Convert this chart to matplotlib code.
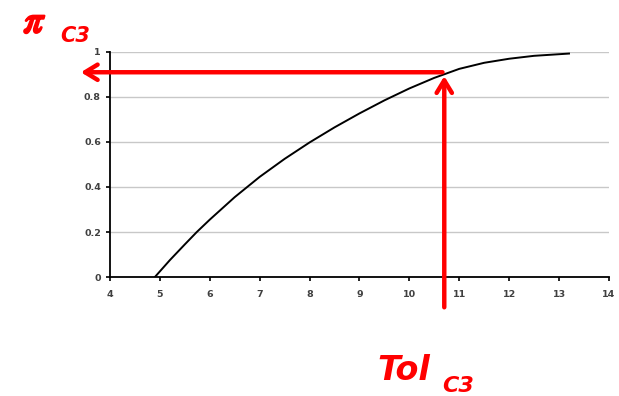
import matplotlib.pyplot as plt
import matplotlib.patheffects as pe

# curve
tol = [4.9, 5.2, 5.5, 5.74, 6.0, 6.5, 7.0, 7.5, 8.0, 8.5, 9.0, 9.5,
       10.0, 10.5, 11.0, 11.5, 12.0, 12.5, 13.2]
pi_c3 = [0.0, 0.075, 0.145, 0.2, 0.255, 0.355, 0.445, 0.525, 0.598, 0.665, 0.727, 0.785,
         0.838, 0.885, 0.925, 0.952, 0.970, 0.983, 0.993]

tol_pick = 10.7
pi_pick = 0.91

fig = plt.figure(figsize=(6.19, 3.96), dpi=100)
ax = fig.add_axes([0.1777, 0.3005, 0.806, 0.5682])

ax.plot(tol, pi_c3, color='black', lw=1.4, solid_joinstyle='round')

ax.set_xlim(4, 14)
ax.set_ylim(0, 1)
ax.set_xticks(range(4, 15))
ax.set_yticks([0, 0.2, 0.4, 0.6, 0.8, 1])
ax.set_yticklabels(['0', '0.2', '0.4', '0.6', '0.8', '1'])
ax.grid(axis='y', color='#c8c8c8', lw=1)
ax.set_axisbelow(True)
for s in ['top', 'right']:
    ax.spines[s].set_visible(False)
ax.spines['left'].set_linewidth(1.3)
ax.spines['bottom'].set_linewidth(1.3)
ax.tick_params(labelsize=6.8, length=3, width=1.2, colors='black', labelcolor='#404040')
for lab in ax.get_xticklabels() + ax.get_yticklabels():
    lab.set_fontweight('bold')
ax.tick_params(axis='x', pad=6)

red = '#ff0000'
arrow = dict(arrowstyle='->,head_length=0.9,head_width=0.55', color=red, lw=3.2)
# vertical arrow from below the axis up to the curve
ax.annotate('', xy=(tol_pick, pi_pick - 0.005), xytext=(tol_pick, -0.147),
            arrowprops=arrow, annotation_clip=False)
# horizontal arrow from the curve to the y axis
ax.annotate('', xy=(3.36, pi_pick), xytext=(tol_pick + 0.02, pi_pick),
            arrowprops=arrow, annotation_clip=False)

fig.text(0.038, 0.918, r'$\pi$', color=red, fontsize=28, math_fontfamily='stix',
         path_effects=[pe.withStroke(linewidth=1.6, foreground=red)])
fig.text(0.097, 0.893, 'C3', color=red, fontsize=15, fontstyle='italic', fontweight='bold')
fig.text(0.609, 0.040, 'Tol', color=red, fontsize=24, fontstyle='italic', fontweight='bold')
fig.text(0.714, 0.010, 'C3', color=red, fontsize=16, fontstyle='italic', fontweight='bold')

fig.savefig('out.png', dpi=100)
